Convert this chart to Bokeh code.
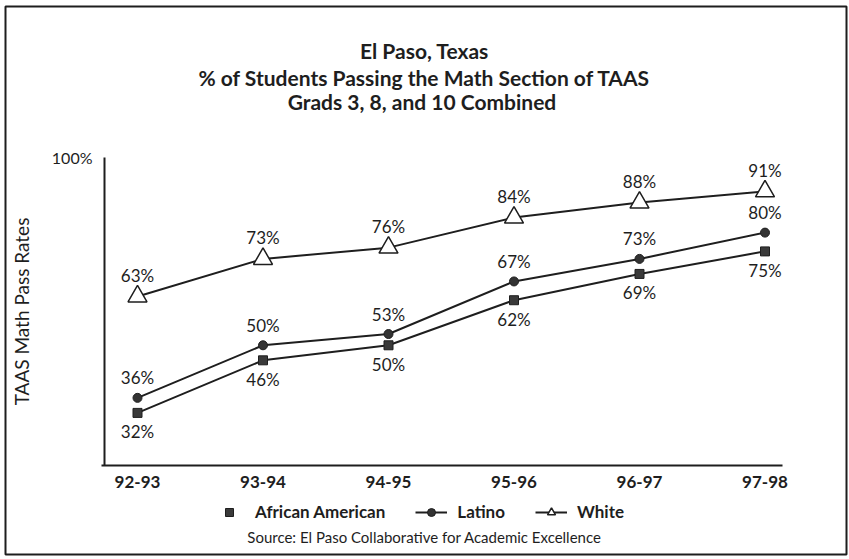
from bokeh.plotting import figure
from bokeh.models import (Range1d, FixedTicker, LinearAxis, Label, Legend,
                          LegendItem, LabelSet, ColumnDataSource)
from bokeh.core.properties import value
from bokeh.embed import file_html
from bokeh.resources import INLINE

# School years and pass rates (%) on the math section of TAAS
years = ["92-93", "93-94", "94-95", "95-96", "96-97", "97-98"]
african_american = [32, 46, 50, 62, 69, 75]
latino = [36, 50, 53, 67, 73, 80]
white = [63, 73, 76, 84, 88, 91]

FONT = "Lato"
INK = "#1e1e1e"
xs = list(range(len(years)))

# The plot frame fills the page; its outline is the border round the chart.
# Axes sit inside it at fixed positions so titles, legend and source fit too.
p = figure(width=849, height=559, output_backend="svg", toolbar_location=None,
           x_range=Range1d(-1.0518, 5.6494), y_range=Range1d(-5.70, 140.20),
           x_axis_location=None, y_axis_location=None,
           min_border_left=5, min_border_right=3,
           min_border_top=6, min_border_bottom=5)
p.outline_line_color = INK
p.outline_line_width = 2
p.grid.visible = False
p.background_fill_color = "white"
p.border_fill_color = "white"

# x axis: one tick per school year
xaxis = LinearAxis(fixed_location=18, bounds=(-0.29, 5.14),
                   ticker=FixedTicker(ticks=xs),
                   major_label_overrides={i: y for i, y in enumerate(years)},
                   major_tick_line_color=None, minor_tick_line_color=None,
                   axis_line_width=2, axis_line_color=INK,
                   major_label_text_font=FONT,
                   major_label_text_font_style="bold",
                   major_label_text_font_size="17px",
                   major_label_text_color=INK, major_label_standoff=5)
p.add_layout(xaxis, "below")

# y axis: only the 100% mark is labelled
yaxis = LinearAxis(fixed_location=-0.263, bounds=(18, 100),
                   ticker=FixedTicker(ticks=[100]),
                   major_label_overrides={100: "100%"},
                   major_tick_line_color=None, minor_tick_line_color=None,
                   axis_line_width=2, axis_line_color=INK,
                   major_label_text_font=FONT,
                   major_label_text_font_size="16px",
                   major_label_text_color=INK, major_label_standoff=6,
                   axis_label="TAAS Math Pass Rates",
                   axis_label_text_font=FONT,
                   axis_label_text_font_style="normal",
                   axis_label_text_font_size="19px",
                   axis_label_text_color=INK, axis_label_standoff=16)
p.add_layout(yaxis, "left")

# series
aa_line = p.line(xs, african_american, line_color=INK, line_width=2)
aa_pts = p.scatter(xs, african_american, marker="square", size=9,
                   fill_color="#3a3a3a", line_color=INK)
lat_line = p.line(xs, latino, line_color=INK, line_width=2)
lat_pts = p.scatter(xs, latino, marker="circle", size=9,
                    fill_color="#333333", line_color=INK)
wh_line = p.line(xs, white, line_color=INK, line_width=2)
wh_pts = p.scatter(xs, white, marker="triangle", size=19,
                   fill_color="white", line_color=INK, line_width=1.5)

# value labels
def add_labels(values, offset):
    src = ColumnDataSource(dict(x=xs, y=values, t=[f"{v}%" for v in values]))
    p.add_layout(LabelSet(x="x", y="y", text="t", source=src, y_offset=offset,
                          text_align="center", text_baseline="middle",
                          text_font=value(FONT), text_font_size=value("17px"),
                          text_color=INK))

add_labels(white, 21)
add_labels(latino, 20)
add_labels(african_american, -19)

# three-line title (screen units: x from frame left, y up from frame bottom)
for text, sy in [("El Paso, Texas", 504),
                 ("% of Students Passing the Math Section of TAAS", 477),
                 ("Grads 3, 8,  and 10 Combined", 453)]:
    p.add_layout(Label(x=419, y=sy, x_units="screen", y_units="screen",
                       text=text, text_align="center", text_baseline="middle",
                       text_font=FONT, text_font_style="bold",
                       text_font_size="21px", text_color=INK))

# legend row under the year labels
legend = Legend(items=[
    LegendItem(label="African American", renderers=[aa_pts]),
    LegendItem(label="Latino", renderers=[lat_line, lat_pts]),
    LegendItem(label="White", renderers=[wh_line, wh_pts]),
], orientation="horizontal", location=(208, 32), border_line_color=None,
    background_fill_alpha=0, label_text_font=FONT, label_text_font_style="bold",
    label_text_font_size="17px", label_text_color=INK, glyph_width=32,
    glyph_height=20, label_standoff=10, spacing=30, padding=0, margin=0)
p.add_layout(legend, "center")

p.add_layout(Label(x=419, y=18, x_units="screen", y_units="screen",
                   text="Source: El Paso Collaborative for Academic Excellence",
                   text_align="center", text_baseline="middle",
                   text_font=FONT, text_font_size="15px", text_color=INK))

open("out.html", "w").write(file_html(p, INLINE))
